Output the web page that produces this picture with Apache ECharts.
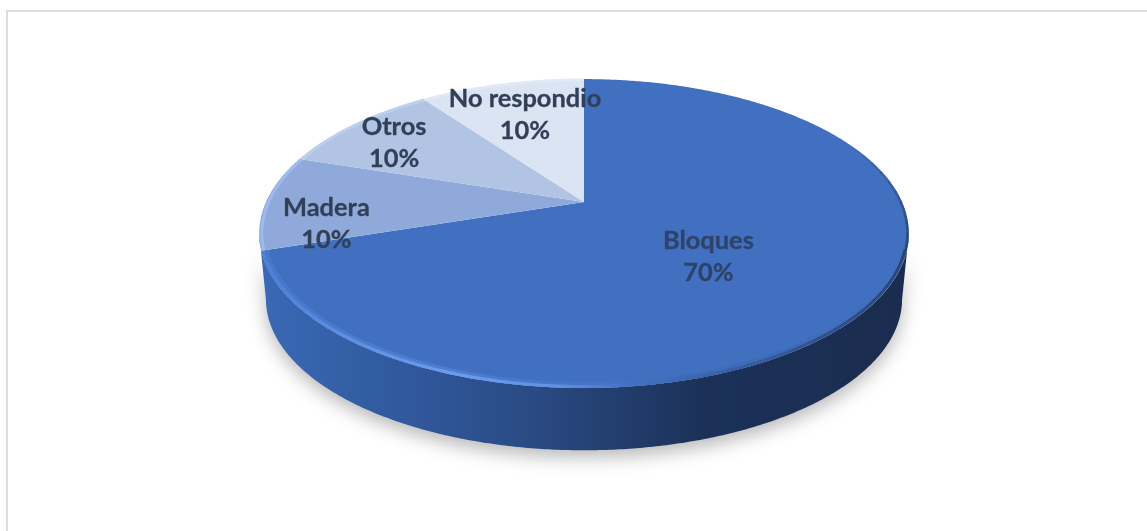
<!DOCTYPE html>
<html><head><meta charset="utf-8">
<style>html,body{margin:0;padding:0;background:#fff}#c{width:1147px;height:531px}</style>
<script src="https://cdn.jsdelivr.net/npm/echarts@6/dist/echarts.min.js"></script>
</head><body><div id="c"></div>
<script>
const categories = ['Bloques', 'Madera', 'Otros', 'No respondio'];
const values = [70, 10, 10, 10];
const sliceColors = ['#4170c0', '#8fa9da', '#b1c4e3', '#dae4f2'];
const rimColors = ['#4170c0', '#9dbcf2', '#bcd0f0', '#e0e9f6'];
const labelRadius = [0.457, 0.81, 0.81, 0.68];
const labelShift = [13, 22, 5, -3];

const total = values.reduce((a, b) => a + b, 0);
const starts = [];
values.reduce((s, v, i) => { starts[i] = s; return s + v / total * 360; }, 0);

// Projection of the disc: far edge is foreshortened, as in the tilted 3D pie
const CX = 584, CY = 202, RX = 318, RY = 148, K = 0.204;
const DEPTH = 67, BOTTOM_SCALE = 0.98;
const EDGE = Math.acos(-K) * 180 / Math.PI;

function project(deg, r, scale, dy) {
  const a = deg * Math.PI / 180;
  const u = Math.sin(a) * r * scale, v = Math.cos(a) * r * scale;
  const w = 1 + K * v;
  return [CX + RX * u / w, CY - RY * v / w + dy];
}
function arc(from, to, r, scale, dy) {
  const pts = [], n = Math.max(2, Math.ceil(Math.abs(to - from) * 2));
  for (let i = 0; i <= n; i++) pts.push(project(from + (to - from) * i / n, r, scale, dy));
  return pts;
}
function hGrad(x0, x1, stops) {
  return { type: 'linear', global: true, x: x0, y: 0, x2: x1, y2: 0,
    colorStops: stops.map(s => ({ offset: (s[0] - x0) / (x1 - x0), color: s[1] })) };
}

const wallFill = hGrad(262, 905, [[262, '#3a69b6'], [330, '#3461a8'], [420, '#30579a'], [520, '#2a4c86'],
  [610, '#233f70'], [700, '#1c3159'], [905, '#1a2c4f']]);
const bevelStroke = hGrad(262, 905, [[262, '#4c80d8'], [340, '#5c8ee2'], [450, '#6c9cf0'], [560, '#6090e4'],
  [625, '#4472c4'], [700, '#3a64ac'], [800, '#31558f'], [905, '#2a4676']]);
const bevelSoft = hGrad(262, 905, [[262, 'rgba(90,140,230,0.28)'], [450, 'rgba(108,156,240,0.32)'], [600, 'rgba(90,140,230,0.12)'],
  [680, 'rgba(50,90,160,0.2)'], [800, 'rgba(50,90,160,0.2)'], [880, 'rgba(50,90,160,0)'], [905, 'rgba(50,90,160,0)']]);

const option = {
  animation: false,
  backgroundColor: '#fff',
  graphic: [
    { type: 'rect', silent: true, shape: { x: 6, y: 10, width: 2, height: 521 }, style: { fill: '#dedede' } },
    { type: 'rect', silent: true, shape: { x: 6, y: 10, width: 1141, height: 2 }, style: { fill: '#dedede' } }
  ],
  series: [
    {
      type: 'custom', coordinateSystem: 'none', z: 2, silent: true,
      data: [total],
      renderItem() {
        const a = EDGE, b = 360 - EDGE;
        const pts = arc(a, b, 1, 1, 0).concat(arc(b, a, 1, BOTTOM_SCALE, DEPTH));
        return { type: 'polygon', shape: { points: pts },
          style: { fill: wallFill, shadowColor: 'rgba(0,0,0,0.28)', shadowBlur: 18, shadowOffsetY: 7 } };
      }
    },
    {
      type: 'custom', coordinateSystem: 'none', z: 3, silent: true,
      data: values,
      renderItem(params, api) {
        const i = params.dataIndex, sweep = api.value(0) / total * 360;
        const from = starts[i], to = from + sweep;
        const children = [
          { type: 'polygon', shape: { points: [[CX, CY]].concat(arc(from, to, 1, 1, 0)) },
            style: { fill: sliceColors[i] } }
        ];
        if (i === 0) {
          // soft, wide bevel band plus a narrower core; it fades out up the right-hand rim
          children.push({ type: 'polyline', shape: { points: arc(EDGE + 6, to, 0.988, 1, 0) },
            style: { fill: null, stroke: bevelSoft, lineWidth: 6 } });
          children.push({ type: 'polyline', shape: { points: arc(EDGE + 6, to, 0.994, 1, 0) },
            style: { fill: null, stroke: bevelStroke, lineWidth: 3 } });
          for (let t = EDGE + 8; t > 66; t -= 4) {
            children.push({ type: 'polyline', shape: { points: arc(t - 4, t + 0.5, 0.996, 1, 0) },
              style: { fill: null, stroke: '#2a4676', lineWidth: 2.5, opacity: Math.max(0.05, (t - 66) / (EDGE - 58)) } });
          }
        } else {
          children.push({ type: 'polyline', shape: { points: arc(from, to, 0.992, 1, 0) },
            style: { fill: null, stroke: rimColors[i], lineWidth: 3, opacity: 0.9 } });
        }
        return { type: 'group', children };
      }
    },
    {
      type: 'custom', coordinateSystem: 'none', z: 4, silent: true,
      data: values,
      renderItem(params, api) {
        const i = params.dataIndex, sweep = api.value(0) / total * 360;
        const p = project(starts[i] + sweep / 2, labelRadius[i], 1, labelShift[i]);
        const pct = Math.round(api.value(0) / total * 100);
        const col = i === 0 ? '#2f4269' : '#323f58';
        return { type: 'text', style: {
          text: categories[i] + '\n' + pct + '%', x: p[0], y: p[1], align: 'center', verticalAlign: 'middle',
          font: 'bold 25.4px Lato', lineHeight: 32, fill: col, stroke: col, lineWidth: 0.3 } };
      }
    }
  ]
};
echarts.init(document.getElementById('c'), null, { renderer: 'canvas' }).setOption(option);
</script></body></html>
